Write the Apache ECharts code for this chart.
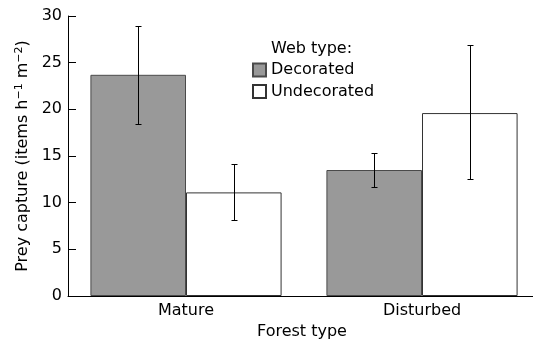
<!DOCTYPE html>
<html><head><meta charset="utf-8">
<script src="https://cdn.jsdelivr.net/npm/echarts@6/dist/echarts.min.js"></script>
<style>html,body{margin:0;padding:0;background:#fff}#c{width:533px;height:340px}</style>
</head><body><div id="c"></div>
<script>
const categories = ['Mature', 'Disturbed'];
const decorated = [23.7, 13.5];
const undecorated = [11.1, 19.6];
const decoratedLow = [18.4, 11.7];
const decoratedHigh = [28.9, 15.3];
const undecoratedLow = [8.1, 12.5];
const undecoratedHigh = [14.1, 26.9];
const yTicks = [0, 5, 10, 15, 20, 25, 30];

const FONT = 'DejaVu Sans';
const GAP = 0.19;
function errSeries(lo, hi, side) {
  return {
    type: 'custom',
    silent: true,
    z: 10,
    data: lo.map((v, i) => [i, v, hi[i]]),
    encode: { x: 0, y: [1, 2] },
    renderItem: function (params, api) {
      const band = api.size([1, 0])[0];
      const bw = band * (1 - GAP) / 2;
      const pLo = api.coord([api.value(0), api.value(1)]);
      const pHi = api.coord([api.value(0), api.value(2)]);
      const x = Math.round(pLo[0] + side * bw / 2) + 0.5;
      const yl = Math.round(pLo[1]) + 0.5, yh = Math.round(pHi[1]) + 0.5;
      const cw = 3;
      const st = { stroke: '#000', lineWidth: 1 };
      return { type: 'group', children: [
        { type: 'line', shape: { x1: x, y1: yl, x2: x, y2: yh }, style: st },
        { type: 'line', shape: { x1: x - cw, y1: yl, x2: x + cw, y2: yl }, style: st },
        { type: 'line', shape: { x1: x - cw, y1: yh, x2: x + cw, y2: yh }, style: st }
      ]};
    }
  };
}
const chart = echarts.init(document.getElementById('c'), null, { renderer: 'canvas' });
chart.setOption({
  animation: false,
  textStyle: { fontFamily: FONT, color: '#000' },
  grid: { left: 68, width: 472, top: 16, bottom: 44, containLabel: false, outerBoundsMode: 'none' },
  legend: {
    orient: 'vertical', left: 252, top: 62, padding: 0, itemWidth: 13, itemHeight: 13, itemGap: 5.5,
    icon: 'rect',
    textStyle: { fontFamily: FONT, fontSize: 16, color: '#000' },
    data: ['Decorated', 'Undecorated']
  },
  graphic: [{ type: 'text', left: 271, top: 41, style: { text: 'Web type:', font: '16px "DejaVu Sans"', fill: '#000' } }],
  xAxis: {
    type: 'category', data: categories,
    name: 'Forest type', nameLocation: 'middle', nameGap: 26,
    nameTextStyle: { fontFamily: FONT, fontSize: 16, color: '#000', padding: [0, 4, 0, 0] },
    axisLine: { lineStyle: { color: '#000', width: 1 } },
    axisTick: { show: false },
    axisLabel: { fontFamily: FONT, fontSize: 16, color: '#000', margin: 7 }
  },
  yAxis: {
    type: 'value', min: 0, max: 30, interval: 5,
    name: 'Prey capture (items h{sup|\u22121} m{sup|\u22122})', nameLocation: 'middle', nameGap: 31,
    nameTextStyle: { fontFamily: FONT, fontSize: 16, color: '#000',
      rich: { sup: { fontFamily: FONT, fontSize: 11, color: '#000', verticalAlign: 'top', padding: [0, 0, 8, 0] } } },
    axisLine: { show: true, lineStyle: { color: '#000', width: 1 } },
    axisTick: { show: true, inside: true, length: 8, lineStyle: { color: '#000' } },
    splitLine: { show: false },
    axisLabel: { fontFamily: FONT, fontSize: 16, color: '#000', margin: 6,
      formatter: v => yTicks.includes(v) ? String(v) : '' }
  },
  series: [
    { name: 'Decorated', type: 'bar', data: decorated, barGap: '0%', barCategoryGap: (GAP * 100) + '%',
      itemStyle: { color: '#999999', borderColor: '#4a4a4a', borderWidth: 1 } },
    { name: 'Undecorated', type: 'bar', data: undecorated, barGap: '0%', barCategoryGap: (GAP * 100) + '%',
      itemStyle: { color: '#ffffff', borderColor: '#333333', borderWidth: 1 } },
    errSeries(decoratedLow, decoratedHigh, -1),
    errSeries(undecoratedLow, undecoratedHigh, 1)
  ]
});
</script></body></html>
